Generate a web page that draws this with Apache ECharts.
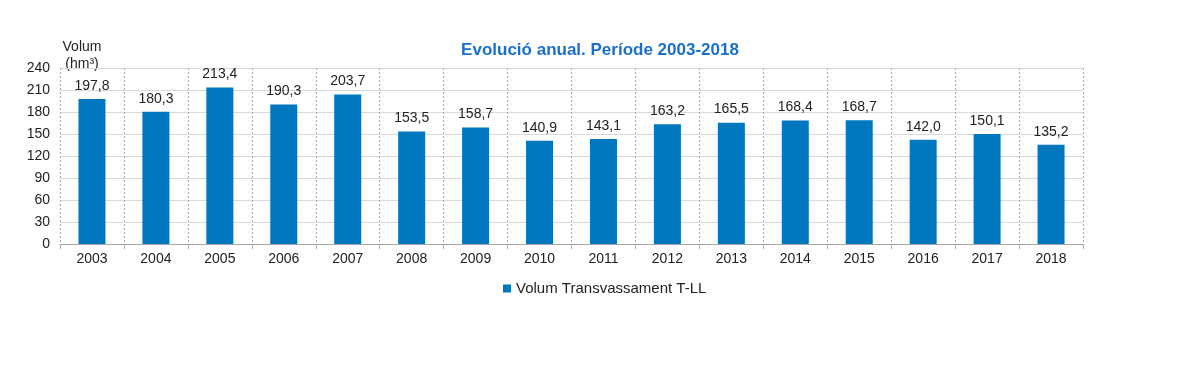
<!DOCTYPE html>
<html><head><meta charset="utf-8">
<script src="https://cdn.jsdelivr.net/npm/echarts@6/dist/echarts.min.js"></script>
<style>html,body{margin:0;padding:0;background:#fff}#c{width:1179px;height:374px}</style>
</head><body><div id="c"></div>
<script>
const categories = ['2003','2004','2005','2006','2007','2008','2009','2010','2011','2012','2013','2014','2015','2016','2017','2018'];
const volumValues = [197.8,180.3,213.4,190.3,203.7,153.5,158.7,140.9,143.1,163.2,165.5,168.4,168.7,142.0,150.1,135.2];
const seriesName = 'Volum Transvassament T-LL';
const titleText = 'Evolució anual. Període 2003-2018';
const yAxisName = 'Volum\n(hm³)';

const chart = echarts.init(document.getElementById('c'));
chart.setOption({
  animation: false,
  textStyle: { fontFamily: 'Liberation Sans, Arial, sans-serif' },
  title: {
    text: titleText, left: 595, top: 37, textAlign: 'center',
    textStyle: { color: '#1A6FCC', fontSize: 17, fontWeight: 'bold', fontFamily: 'Liberation Sans, Arial, sans-serif' }
  },
  graphic: [{
    type: 'text', x: 82, y: 39,
    style: { text: yAxisName, fill: '#222', fontSize: 14, lineHeight: 17, align: 'center', verticalAlign: 'top',
             fontFamily: 'Liberation Sans, Arial, sans-serif' }
  }],
  legend: {
    data: [seriesName], top: 276, left: 498, itemWidth: 8, itemHeight: 8, itemGap: 5,
    icon: 'rect',
    textStyle: { color: '#222', fontSize: 15, fontFamily: 'Liberation Sans, Arial, sans-serif' }
  },
  grid: { left: 60, right: 96, top: 68, bottom: 130, containLabel: false },
  xAxis: {
    type: 'category', data: categories,
    axisLine: { lineStyle: { color: '#A6A6A6', width: 1 } },
    axisTick: { show: true, length: 5, lineStyle: { color: '#A6A6A6' } },
    axisLabel: { color: '#222', fontSize: 14, margin: 8 },
    splitLine: { show: true, interval: 0, lineStyle: { color: '#A6A6A6', type: [2, 2], width: 1 } }
  },
  yAxis: {
    type: 'value', min: 0, max: 240, interval: 30,
    axisLine: { show: false }, axisTick: { show: false },
    axisLabel: { color: '#222', fontSize: 14, margin: 10 },
    splitLine: { lineStyle: { color: '#D9D9D9', width: 1 } }
  },
  series: [{
    name: seriesName, type: 'bar', data: volumValues, barWidth: 27,
    itemStyle: { color: '#0077BE' },
    label: {
      show: true, position: 'top', distance: 6, color: '#222', fontSize: 14,
      formatter: p => p.value.toFixed(1).replace('.', ',')
    }
  }]
});
</script></body></html>
